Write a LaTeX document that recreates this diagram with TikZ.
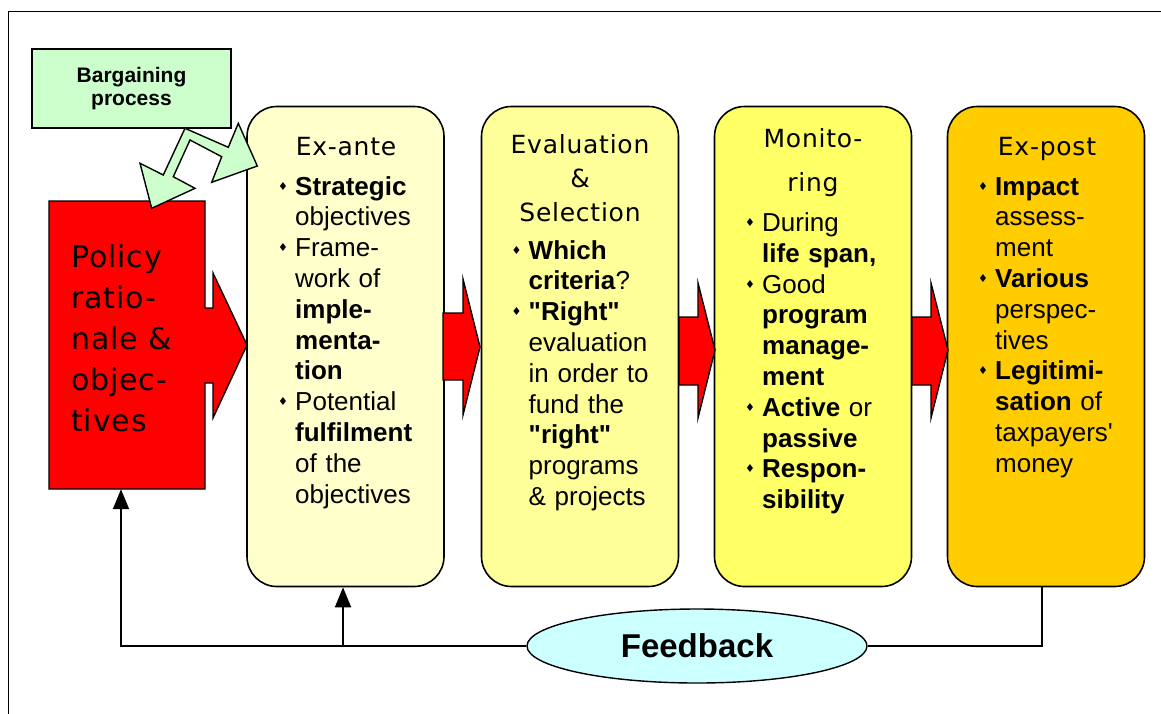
\documentclass[tikz,border=0pt]{standalone}
\usepackage{fontspec}
\setmainfont{Liberation Sans}
\newfontfamily\ar{Liberation Sans}
\newfontfamily\dvh{DejaVu Sans}[LetterSpace=3]
\newfontfamily\dvp{DejaVu Sans}[LetterSpace=3]
\newfontfamily\dvs{DejaVu Sans}
\usetikzlibrary{arrows.meta,shapes.geometric}
\definecolor{cExante}{HTML}{FFFFCC}
\definecolor{cEval}{HTML}{FFFF99}
\definecolor{cMon}{HTML}{FFFF66}
\definecolor{cPost}{HTML}{FFCC00}
\definecolor{cGreen}{HTML}{CCFFCC}
\definecolor{cFb}{HTML}{CCFFFF}
\newcommand{\bul}{\leavevmode\llap{\makebox[17pt][l]{\raisebox{5pt}{\fontsize{11}{11}\dvs ♦}}}}
\begin{document}
\begin{tikzpicture}[x=1pt,y=-1pt,
  stage/.style={draw=black,line width=1.6,rounded corners=30,minimum width=197,minimum height=480,inner sep=0},
  redarr/.style={draw=black,line width=1.4,fill=red,line join=miter},
  txt/.style={anchor=base west,inner sep=0,text width=170,align=left,font=\ar\fontsize{26}{30.8}\selectfont},
  hd/.style={anchor=base,inner sep=0,text width=190,align=center,font=\dvh\fontsize{25}{34}\selectfont},
  fbline/.style={line width=1.8},
  fbarr/.style={line width=1.8,-{Triangle[width=16,length=20]}}]
\useasboundingbox (0,0) rectangle (1161,713);
\fill[white] (0,0) rectangle (1161,713);
% outer frame
\draw[line width=1.5] (1170,11.5) -- (8.5,11.5) -- (8.5,720);
% policy box with attached arrow
\node[minimum width=156,minimum height=288,inner sep=0] (policy) at (127,345) {};
\filldraw[redarr] (49,201) -- (205,201) -- (205,308) -- (213,308) -- (213,273) -- (247,345)
  -- (213,418) -- (213,383) -- (205,383) -- (205,489) -- (49,489) -- cycle;
\node[anchor=base west,inner sep=0,text width=150,align=left,font=\dvp\fontsize{30}{41}\selectfont] (policyT) at (71,267)
  {Policy\\ratio-\\nale \&\\objec-\\tives};
% stage boxes
\node[stage,fill=cExante] (exante) at (345.5,346.5) {};
\node[stage,fill=cEval] (eval) at (580,346.5) {};
\node[stage,fill=cMon] (mon) at (813,346.5) {};
\node[stage,fill=cPost] (expost) at (1046,346.5) {};
% red arrows between stages
\filldraw[redarr] (443,313) -- (463,313) -- (463,279) -- (480,347) -- (463,415) -- (463,380) -- (443,380) -- cycle;
\filldraw[redarr] (679,317) -- (698,317) -- (698,283) -- (715,350) -- (698,418) -- (698,385) -- (679,385) -- cycle;
\filldraw[redarr] (912,317) -- (931,317) -- (931,283) -- (948,350) -- (931,418) -- (931,385) -- (912,385) -- cycle;
% bargaining
\node[draw=black,line width=1.4,fill=cGreen,minimum width=199,minimum height=79,inner sep=0,align=center,
  font=\ar\bfseries\fontsize{21}{23}\selectfont] (barg) at (131.5,88.5) {Bargaining\\process};
\filldraw[draw=black,line width=1.4,fill=cGreen,line join=miter]
  (185,128.3) -- (228.3,147.3) -- (238.3,123.3) -- (257.3,166) -- (211.7,182.3) -- (221.7,156.7)
  -- (190,140) -- (173.3,176.7) -- (195,188.3) -- (151.7,208.3) -- (140,163.3) -- (163.3,175) -- cycle;
% headers
\node[hd] (exanteH) at (346,155) {Ex-ante};
\node[hd] (evalH) at (580,153) {Evaluation\\\&\\Selection};
\node[hd,font=\dvh\fontsize{25}{44}\selectfont] (monH) at (813,147) {Monito-\\ring};
\node[hd] (expostH) at (1047,155) {Ex-post};
% bullet texts
\node[txt] (exanteT) at (295,195) {\bul\textbf{Strategic}\\objectives\\\bul Frame-\\work of\\\textbf{imple-}\\\textbf{menta-}\\\textbf{tion}\\\bul Potential\\\textbf{fulfilment}\\of the\\objectives};
\node[txt] (evalT) at (528.5,259) {\bul\textbf{Which}\\\textbf{criteria}?\\\bul\textbf{"Right"}\\evaluation\\in order to\\fund the\\\textbf{"right"}\\programs\\\& projects};
\node[txt] (monT) at (762,231.5) {\bul During\\\textbf{life span,}\\\bul Good\\\textbf{program}\\\textbf{manage-}\\\textbf{ment}\\\bul\textbf{Active} or\\\textbf{passive}\\\bul\textbf{Respon-}\\\textbf{sibility}};
\node[txt] (expostT) at (995,195) {\bul\textbf{Impact}\\assess-\\ment\\\bul\textbf{Various}\\perspec-\\tives\\\bul\textbf{Legitimi-}\\\textbf{sation} of\\taxpayers'\\money};
% feedback
\node[draw=black,line width=1.4,ellipse,fill=cFb,minimum width=340,minimum height=74,inner sep=0,
  font=\ar\bfseries\fontsize{33}{33}\selectfont] (fb) at (697,646) {Feedback};
\draw[fbline] ([xshift=-4]expost.south) |- (fb.east);
\draw[fbarr] (fb.west) -| ([xshift=-6]policy.south);
\coordinate (br) at ([xshift=-2.5]exante.south |- fb.west);
\draw[fbarr] (br) -- ([xshift=-2.5]exante.south);
\end{tikzpicture}
\end{document}
